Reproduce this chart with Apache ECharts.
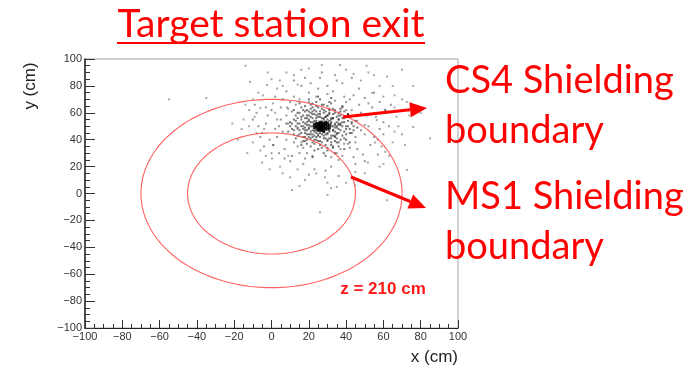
<!DOCTYPE html>
<html>
<head>
<meta charset="utf-8">
<script src="https://cdn.jsdelivr.net/npm/echarts@6/dist/echarts.min.js"></script>
<style>
  html, body { margin: 0; padding: 0; background: #fff; }
  #chart { width: 696px; height: 374px; }
</style>
</head>
<body>
<div id="chart"></div>
<script>
// Axis range and major tick step (cm)
const axisRange = [-100, 100];
const axisStep = 20;

// Shielding boundaries at this plane: circles centred on the beam axis (radius in cm)
const boundaryNames = ['CS4', 'MS1'];
const boundaryRadii = [70, 45];

// Particle hit positions (x, y in cm): dense core of the beam spot
const corePoints = [
  [27,50],[26,51],[28,49],[25,50],[29,51],[27,48],[26,52],[28,52],[24,49],[30,50],
  [27,53],[25,48],[29,48],[26,49],[28,51],[23,51],[31,49],[27,47],[25,52],[29,53],
  [24,50],[30,52],[26,47],[28,47],[27,51],[26,50],[28,50],[25,51],[29,49],[27,49],
  [24,52],[30,48],[23,49],[31,51],[26,53],[28,46],[25,47],[29,52],[27,52],[26,48]
];

// Hits close around the core
const midCloud = [
  [22,50],[32,50],[27,44],[27,56],[23,46],[31,54],[23,54],[31,46],[20,49],[34,51],
  [25,43],[29,57],[21,53],[33,47],[24,56],[30,44],[19,51],[35,49],[26,45],[28,55],
  [22,47],[32,53],[24,47],[30,53],[21,57],[33,43],[25,59],[29,41],[18,49],[36,51],
  [23,52],[31,48],[20,54],[34,46],[26,57],[28,43],[22,44],[32,56],[19,47],[35,53],
  [24,61],[30,39],[17,53],[37,47],[21,41],[33,59],[25,39],[29,61],[16,50],[38,50],
  [20,58],[34,42],[23,40],[31,60],[18,45],[36,55],[26,59],[28,41],[15,47],[39,53],
  [22,59],[32,41],[19,56],[35,44],[24,42],[30,58],[17,48],[37,52],[21,44],[33,56],
  [26,39],[28,62],[14,52],[40,48],[20,61],[34,39],[23,37],[31,63],[16,57],[38,43],
  [25,64],[29,36],[13,50],[41,50],[18,42],[36,58],[22,64],[32,36],[15,44],[39,56],
  [27,66],[27,34],[12,55],[42,45],[19,62],[35,38],[24,68],[30,32],[11,48],[43,53],
  [17,39],[37,61],[21,66],[33,34],[14,60],[40,40],[26,70],[28,30],[10,53],[44,47],
  [18,65],[36,35],[23,32],[31,68],[13,41],[41,59],[25,72],[29,28],[9,46],[45,54],
  [16,36],[38,64],[20,70],[34,30],[12,62],[42,38],[8,52],[46,49],[22,27],[32,71],
  [15,67],[39,33]
];

const innerCloud = [
  [20,55],[33,56],[18,47],[35,45],[22,42],[31,41],[15,52],[38,53],[21,60],[34,60],
  [19,44],[36,48],[24,58],[30,58],[17,50],[37,51],[23,43],[32,43],[20,51],[34,52],
  [22,56],[32,55],[19,53],[35,50],[21,46],[33,47],[25,57],[29,57],[18,56],[36,55],
  [23,62],[31,62],[16,45],[39,46],[24,40],[30,40],[14,49],[40,50],[21,63],[33,63],
  [19,40],[35,41],[26,61],[28,60],[17,58],[37,58],[22,38],[32,38],[13,54],[41,54],
  [20,48],[34,49],[24,45],[30,45],[18,52],[36,52],[22,53],[32,52],[25,44],[29,44],
  [16,55],[38,56],[20,42],[34,43],[23,59],[31,59],[12,47],[42,48],[27,63],[27,38],
  [15,60],[39,61],[19,37],[36,38],[11,52],[43,52],[24,65],[30,65],[14,43],[40,44],
  [21,35],[33,35],[17,62],[37,63],[26,36],[28,66],[10,50],[44,50],[22,67],[32,67],
  [13,58],[41,59],[18,39],[37,40],[25,33],[30,34],[16,64],[38,65],[12,44],[43,45],
  [20,44],[35,57],[23,47],[31,47],[19,58],[36,45],[26,42],[28,56],[14,56],[40,57],
  [21,50],[33,50],[17,42],[39,41],[24,54],[30,55],[22,61],[34,62],[18,61],[36,60]
];

// Wider spread of hits
const outerCloud = [
  [5,55],[48,60],[8,40],[45,38],[10,68],[42,70],[15,30],[38,28],[2,48],[52,50],
  [20,75],[33,76],[0,62],[55,42],[7,33],[46,33],[12,72],[44,73],[18,26],[36,25],
  [-3,52],[56,57],[25,78],[30,80],[3,42],[50,44],[9,63],[47,66],[14,35],[42,34],
  [-5,45],[58,48],[21,82],[35,84],[6,70],[50,71],[11,28],[44,27],[-2,58],[54,64],
  [17,22],[32,20],[1,36],[53,36],[8,76],[47,78],[26,86],[-7,50],[60,53],[13,66],
  [40,68],[4,30],[49,29],[-1,40],[57,40],[16,80],[38,82],[10,24],[45,22],[-8,60],
  [61,62],[23,18],[29,17],[5,64],[52,67],[-4,35],[59,35],[18,86],[34,88],[9,52],
  [46,54],[12,38],[41,37],[6,46],[48,47],[15,70],[39,72],[19,30],[35,30],[-10,55],
  [63,50],[27,90],[2,72],[55,75],[7,26],[50,24],[-6,42],[60,44],[12,84],[43,86],
  [20,14],[36,13],[-9,66],[64,66],[0,30],[57,29],[24,72],[30,74],[14,48],[40,62],
  [8,58],[45,42],[17,34],[37,33],[3,55],[51,58],[11,61],[43,62],[20,68],[34,69],
  [16,38],[39,37],[4,50],[50,51],[22,28],[32,27],[-3,64],[58,68]
];

// Isolated hits far from the spot
const haloPoints = [
  [-55,70],[-35,71],[-21,52],[-15,55],[-13,30],[-14,95],[-11.5,83],[-9,57],[-6,63.6],[-5,23],
  [0.3,26],[4.6,20],[9,28],[14,18],[24,15],[15,5.6],[11,2.6],[30,-1],[0.8,36],[16,92],
  [27,95.5],[-2.4,80.7],[4.5,84],[14,81],[-4.6,73],[0.8,67],[8.3,64],[36.7,95.5],[51,95],[62,87],
  [70,92],[76,80],[54,74.7],[66,73],[72.6,68],[76,49.5],[67,57],[61,62],[56.5,54.6],[66,46],
  [28.7,12],[32,4],[44.8,6],[51.7,23],[71.6,36],[72.6,17.5],[55.5,38],[61,31],[85,41],[62,-5],
  [26,-14],[-8,45],[-18,40],[80,60],[-2,90],[44,89],[58,80],[-10,70],
  [-12,62],[-16,48],[-7,75],[0,85],[8,90],[20,93],[40,92],[55,88],[65,80],[70,70],
  [74,58],[70,44],[65,38],[60,22],[50,15],[40,8],[30,8],[18,10],[6,15],[-3,28],
  [-10,38],[-14,66],[3,78],[12,88],[48,84],[60,72],[68,50],[63,28],[45,16],[10,12],
  [-6,32],[-12,50],[2,60],[6,80],[52,90],[66,64],[58,20],[35,5],[-1,18],[-4,48]
];

// Texts drawn on the figure
const titleText = 'Target station exit';
const boundaryLabels = ['CS4 Shielding\nboundary', 'MS1 Shielding\nboundary'];
const planeLabel = 'z = 210 cm';
const axisTitles = ['x (cm)', 'y (cm)'];

const RED = '#ff0000';
const chart = echarts.init(document.getElementById('chart'));

const minusFmt = v => String(v).replace('-', '\u2212');

// Arrow: shaft + filled head, in pixel space
function arrow(x1, y1, x2, y2) {
  const L = 17, W = 7.5;
  const dx = x2 - x1, dy = y2 - y1, len = Math.hypot(dx, dy);
  const ux = dx / len, uy = dy / len;
  const bx = x2 - ux * L, by = y2 - uy * L;
  return [
    { type: 'line', shape: { x1: x1, y1: y1, x2: bx, y2: by }, style: { stroke: RED, lineWidth: 3 }, z: 100 },
    { type: 'polygon', shape: { points: [[x2, y2], [bx - uy * W, by + ux * W], [bx + uy * W, by - ux * W]] }, style: { fill: RED }, z: 100 }
  ];
}

const redFont = 'Lato';

function hits(name, data, size, color) {
  return { name: name, type: 'scatter', symbol: 'rect', symbolSize: size, data: data, itemStyle: { color: color }, silent: true };
}

const option = {
  animation: false,
  backgroundColor: '#fff',
  grid: { left: 85, right: 238, top: 59, bottom: 46, show: true, borderColor: '#c4c4c4', borderWidth: 1.5, backgroundColor: '#fff' },
  xAxis: {
    type: 'value', min: axisRange[0], max: axisRange[1], interval: axisStep,
    axisLine: { onZero: false, lineStyle: { color: '#222', width: 1.2 } },
    axisTick: { inside: true, length: 8, lineStyle: { color: '#333' } },
    minorTick: { show: true, splitNumber: 4, length: 4, lineStyle: { color: '#333' } },
    splitLine: { show: false },
    axisLabel: { margin: 3, color: '#333', fontSize: 11, fontFamily: 'Liberation Sans', formatter: minusFmt },
    name: axisTitles[0], nameLocation: 'end', nameGap: 0,
    nameTextStyle: { align: 'right', verticalAlign: 'top', padding: [21, 0, 0, 0], fontSize: 17, color: '#222', fontFamily: 'Liberation Sans' }
  },
  yAxis: {
    type: 'value', min: axisRange[0], max: axisRange[1], interval: axisStep,
    axisLine: { onZero: false, lineStyle: { color: '#222', width: 1.5 } },
    axisTick: { inside: true, length: 10, lineStyle: { color: '#333' } },
    minorTick: { show: true, splitNumber: 4, length: 5, lineStyle: { color: '#333' } },
    splitLine: { show: false },
    axisLabel: { margin: 3, color: '#333', fontSize: 11, fontFamily: 'Liberation Sans', formatter: minusFmt }
  },
  series: [
    hits('halo', haloPoints, 2, 'rgba(60,60,60,0.55)'),
    hits('outer', outerCloud, 2, 'rgba(40,40,40,0.6)'),
    hits('inner', innerCloud, 2, 'rgba(15,15,15,0.7)'),
    hits('mid', midCloud, 2, 'rgba(10,10,10,0.7)'),
    hits('core', corePoints, 3, '#000'),
    {
      name: 'boundaries', type: 'custom', silent: true, z: 5,
      data: boundaryRadii.map((r, i) => ({ name: boundaryNames[i], value: [r] })),
      renderItem: function (params, api) {
        const r = api.value(0);
        const pts = [];
        for (let k = 0; k <= 180; k++) {
          const t = k / 180 * Math.PI * 2;
          pts.push(api.coord([r * Math.cos(t), r * Math.sin(t)]));
        }
        return {
          type: 'polyline', shape: { points: pts },
          style: { stroke: 'rgba(255,70,70,0.85)', lineWidth: 1.1, fill: null }
        };
      }
    }
  ],
  graphic: [
    { type: 'text', x: 271, y: 24, style: { text: titleText, fill: RED, font: '39px ' + redFont, align: 'center', verticalAlign: 'middle' } },
    { type: 'line', shape: { x1: 117, y1: 43, x2: 425, y2: 43 }, style: { stroke: RED, lineWidth: 2 } },
    { type: 'text', x: 30, y: 86, rotation: Math.PI / 2, style: { text: axisTitles[1], fill: '#222', font: '17px Liberation Sans', align: 'center', verticalAlign: 'middle' } },
    { type: 'text', x: 383, y: 289, style: { text: planeLabel, fill: '#ff1a1a', font: 'bold 17px Liberation Sans', align: 'center', verticalAlign: 'middle' }, z: 100 },
    { type: 'text', x: 445, y: 56, style: { text: boundaryLabels[0], fill: RED, font: '38px ' + redFont, lineHeight: 50, align: 'left', verticalAlign: 'top' }, z: 100 },
    { type: 'text', x: 445, y: 172, style: { text: boundaryLabels[1], fill: RED, font: '38px ' + redFont, lineHeight: 50, align: 'left', verticalAlign: 'top' }, z: 100 }
  ].concat(arrow(343, 117, 427, 108), arrow(351, 177, 426, 208))
};

chart.setOption(option);
</script>
</body>
</html>
